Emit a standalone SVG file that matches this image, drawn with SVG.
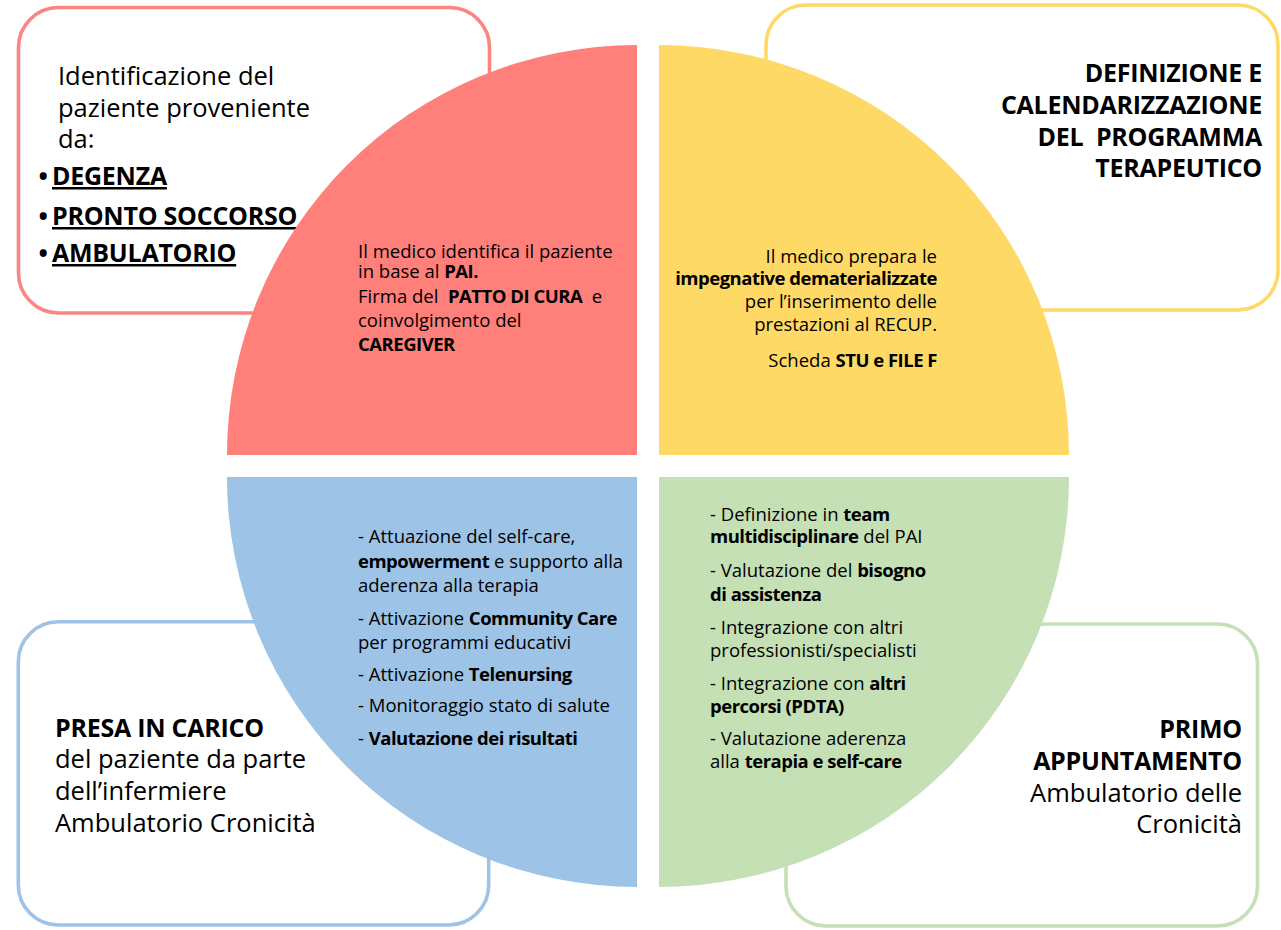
<svg xmlns="http://www.w3.org/2000/svg" width="1281" height="930" viewBox="0 0 1281 930">
<style>
text{font-family:"Open Sans","Liberation Sans",sans-serif;fill:#000}
.box{fill:#fff;stroke-width:3.6}
.big{font-size:25.5px}
.bigb{font-size:25px;font-weight:bold;letter-spacing:-0.25px}
.sm{font-size:18.5px}
.b{font-weight:bold;letter-spacing:-0.5px}
.u{text-decoration:underline}
</style>
<rect width="1281" height="930" fill="#fff"/>
<g id="box-identificazione">
<rect class="box" x="18.5" y="7.5" width="471" height="305.5" rx="40" stroke="#F98680"/>
<text class="big" x="58" y="85">Identificazione del</text>
<text class="big" x="58" y="117">paziente proveniente</text>
<text class="big" x="58" y="148">da:</text>
<text class="bigb" x="38.5" y="185">•</text><text class="bigb u" x="52" y="185">DEGENZA</text>
<text class="bigb" x="38.5" y="225">•</text><text class="bigb u" x="52" y="225">PRONTO SOCCORSO</text>
<text class="bigb" x="38.5" y="262">•</text><text class="bigb u" x="52" y="262">AMBULATORIO</text>
</g>
<g id="box-definizione">
<rect class="box" x="766" y="5" width="512" height="305" rx="40" stroke="#FFD966"/>
<text class="bigb" x="1262" y="82" text-anchor="end">DEFINIZIONE E</text>
<text class="bigb" x="1262" y="114" text-anchor="end">CALENDARIZZAZIONE</text>
<text class="bigb" x="1262" y="146" text-anchor="end" xml:space="preserve">DEL  PROGRAMMA</text>
<text class="bigb" x="1262" y="177" text-anchor="end">TERAPEUTICO</text>
</g>
<g id="box-presa-in-carico">
<rect class="box" x="18.3" y="621.7" width="470.4" height="303.3" rx="40" stroke="#9DC3E6"/>
<text class="bigb" x="55" y="737">PRESA IN CARICO</text>
<text class="big" x="55" y="768">del paziente da parte</text>
<text class="big" x="55" y="800">dell’infermiere</text>
<text class="big" x="55" y="832">Ambulatorio Cronicità</text>
</g>
<g id="box-primo-appuntamento">
<rect class="box" x="786" y="624" width="471.5" height="302" rx="40" stroke="#C5E0B4"/>
<text class="bigb" x="1242" y="738" text-anchor="end">PRIMO</text>
<text class="bigb" x="1242" y="770" text-anchor="end">APPUNTAMENTO</text>
<text class="big" x="1242" y="802" text-anchor="end">Ambulatorio delle</text>
<text class="big" x="1242" y="833" text-anchor="end">Cronicità</text>
</g>
<g id="quad-red">
<path d="M637,455 L227,455 A410,410 0 0 1 637,45 Z" fill="#FF7F7A"/>
<text class="sm" x="358" y="258">Il medico identifica il paziente</text>
<text class="sm" x="358" y="278">in base al <tspan class="b">PAI.</tspan></text>
<text class="sm" x="358" y="303" xml:space="preserve">Firma del  <tspan class="b">PATTO DI CURA</tspan>  e</text>
<text class="sm" x="358" y="327">coinvolgimento del</text>
<text class="sm b" x="358" y="351">CAREGIVER</text>
</g>
<g id="quad-yellow">
<path d="M659,455 L659,45 A410,410 0 0 1 1069,455 Z" fill="#FFD966"/>
<text class="sm" x="937" y="263" text-anchor="end">Il medico prepara le</text>
<text class="sm b" x="937" y="285" text-anchor="end">impegnative dematerializzate</text>
<text class="sm" x="937" y="308" text-anchor="end">per l’inserimento delle</text>
<text class="sm" x="937" y="331" text-anchor="end">prestazioni al RECUP.</text>
<text class="sm" x="937" y="367" text-anchor="end">Scheda <tspan class="b">STU e FILE F</tspan></text>
</g>
<g id="quad-blue">
<path d="M637,477 L637,887 A410,410 0 0 1 227,477 Z" fill="#9DC3E6"/>
<text class="sm" x="358" y="543">- Attuazione del self-care,</text>
<text class="sm" x="358" y="568"><tspan class="b">empowerment</tspan> e supporto alla</text>
<text class="sm" x="358" y="592">aderenza alla terapia</text>
<text class="sm" x="358" y="625">- Attivazione <tspan class="b">Community Care</tspan></text>
<text class="sm" x="358" y="649">per programmi educativi</text>
<text class="sm" x="358" y="681">- Attivazione <tspan class="b">Telenursing</tspan></text>
<text class="sm" x="358" y="712">- Monitoraggio stato di salute</text>
<text class="sm" x="358" y="745">- <tspan class="b">Valutazione dei risultati</tspan></text>
</g>
<g id="quad-green">
<path d="M659,477 L1069,477 A410,410 0 0 1 659,887 Z" fill="#C5E0B4"/>
<text class="sm" x="710" y="521">- Definizione in <tspan class="b">team</tspan></text>
<text class="sm" x="710" y="543"><tspan class="b">multidisciplinare</tspan> del PAI</text>
<text class="sm" x="710" y="577">- Valutazione del <tspan class="b">bisogno</tspan></text>
<text class="sm b" x="710" y="601">di assistenza</text>
<text class="sm" x="710" y="634">- Integrazione con altri</text>
<text class="sm" x="710" y="657">professionisti/specialisti</text>
<text class="sm" x="710" y="690">- Integrazione con <tspan class="b">altri</tspan></text>
<text class="sm b" x="710" y="713">percorsi (PDTA)</text>
<text class="sm" x="710" y="745">- Valutazione aderenza</text>
<text class="sm" x="710" y="768">alla <tspan class="b">terapia e self-care</tspan></text>
</g>
<g id="connectors"/>
</svg>
